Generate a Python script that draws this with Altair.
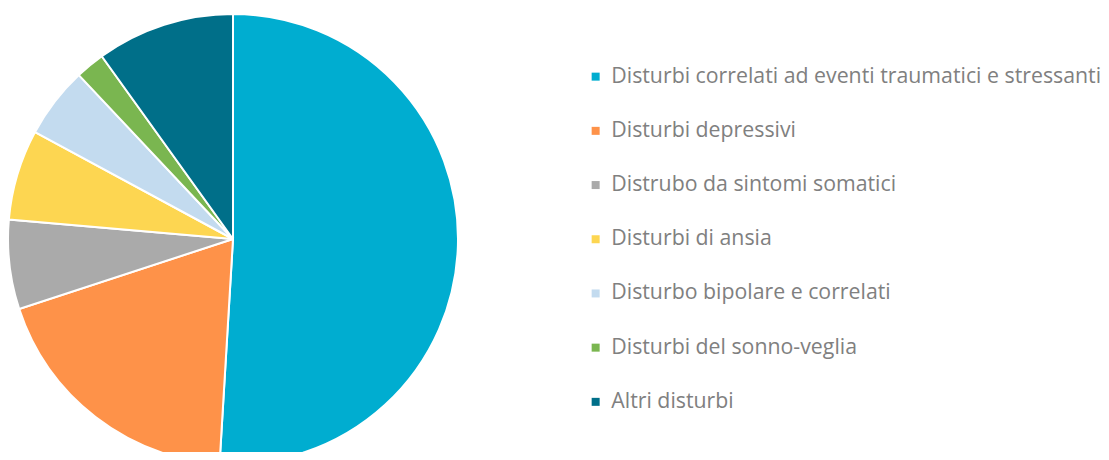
import altair as alt
import pandas as pd

categories = [
    "Disturbi correlati ad eventi traumatici e stressanti",
    "Disturbi depressivi",
    "Distrubo da sintomi somatici",
    "Disturbi di ansia",
    "Disturbo bipolare e correlati",
    "Disturbi del sonno-veglia",
    "Altri disturbi",
]
values = [50.9, 19.0, 6.4, 6.5, 5.1, 2.1, 9.9]
colors = ["#00ADD0", "#FE9249", "#AAAAAA", "#FDD651", "#C3DBEF", "#7AB650", "#006F89"]

df = pd.DataFrame({"categoria": categories, "valore": values, "ordine": list(range(len(values)))})

chart = alt.Chart(df).mark_arc(radius=225, stroke="white", strokeWidth=2).encode(
    theta=alt.Theta("valore:Q", stack=True),
    order=alt.Order("ordine:Q"),
    x=alt.value(225),
    y=alt.value(231),
    color=alt.Color(
        "categoria:N",
        sort=categories,
        scale=alt.Scale(domain=categories, range=colors),
        legend=alt.Legend(
            title=None,
            orient="none",
            legendX=577,
            legendY=58,
            symbolType="square",
            symbolSize=64,
            symbolStrokeWidth=0,
            labelFont="Open Sans",
            labelFontSize=21.3,
            labelFontWeight=400,
            labelColor="#808080",
            labelOffset=5,
            rowPadding=32.2,
            labelLimit=600,
        ),
    ),
).properties(
    width=1093, height=444, padding=0, autosize=alt.AutoSizeParams(type="none")
).configure_view(stroke=None)

chart.save("out.html", embed_options={"renderer": "svg", "actions": False})
